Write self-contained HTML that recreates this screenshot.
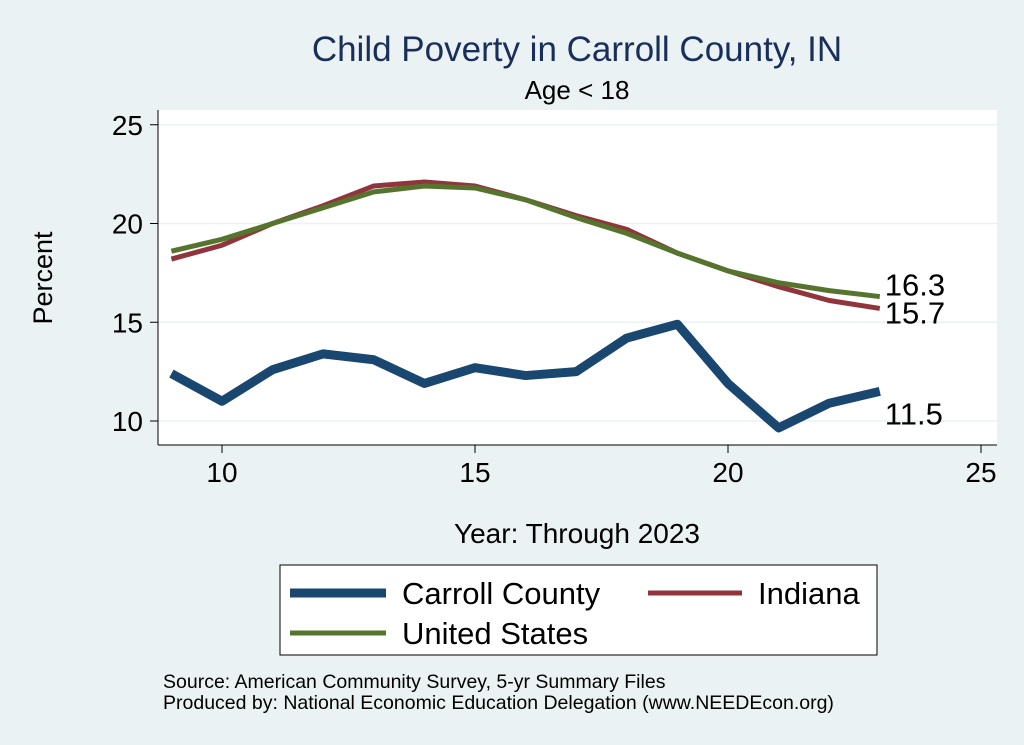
<!DOCTYPE html>
<html><head><meta charset="utf-8"><style>
body{margin:0;background:#eaf2f3;}
svg{display:block;font-family:"Liberation Sans",sans-serif;}
</style></head><body>
<svg id="chart" width="1024" height="745" viewBox="0 0 1024 745">
<rect x="0" y="0" width="1024" height="745" fill="#eaf2f3"/>
<text x="577" y="61" font-size="35" fill="#1a2e5a" text-anchor="middle">Child Poverty in Carroll County, IN</text>
<text x="577" y="99" font-size="26" fill="#000" text-anchor="middle">Age &lt; 18</text>
<rect x="158" y="110" width="839" height="335" fill="#fff"/>
<g id="grid"></g>
<g id="axes"></g>
<g id="series"></g>
<text x="52" y="278" font-size="27" text-anchor="middle" transform="rotate(-90 52 278)">Percent</text>
<text x="577" y="543" font-size="28" text-anchor="middle">Year: Through 2023</text>
<g>
<rect x="280" y="565" width="597" height="90" fill="#fff" stroke="#000" stroke-width="1"/>
<line x1="290" y1="593" x2="386" y2="593" stroke="#1a476f" stroke-width="9"/>
<text x="402" y="604" font-size="31">Carroll County</text>
<line x1="648" y1="593" x2="742" y2="593" stroke="#90353b" stroke-width="5"/>
<text x="758" y="604" font-size="31">Indiana</text>
<line x1="290" y1="633" x2="386" y2="633" stroke="#55752f" stroke-width="5"/>
<text x="402" y="644" font-size="31">United States</text>
</g>
<text x="163" y="688" font-size="19.5">Source: American Community Survey, 5-yr Summary Files</text>
<text x="163" y="709" font-size="19.5">Produced by: National Economic Education Delegation (www.NEEDEcon.org)</text>
</svg>
<script>
const years=[9,10,11,12,13,14,15,16,17,18,19,20,21,22,23];
const carroll=[12.4,11.0,12.6,13.4,13.1,11.9,12.7,12.3,12.5,14.2,14.9,11.9,9.65,10.9,11.5];
const indiana=[18.2,18.9,20.0,20.9,21.9,22.1,21.9,21.2,20.4,19.7,18.5,17.6,16.8,16.1,15.7];
const us=[18.6,19.2,20.0,20.8,21.6,21.9,21.8,21.2,20.3,19.5,18.5,17.6,17.0,16.6,16.3];
const xTicks=[10,15,20,25];
const yTicks=[10,15,20,25];
const NS="http://www.w3.org/2000/svg";
const xs=v=>222+(v-10)*50.6;
const ys=v=>421-(v-10)*19.75;
function mk(tag,attrs,parent){const e=document.createElementNS(NS,tag);for(const k in attrs)e.setAttribute(k,attrs[k]);parent.appendChild(e);return e;}
const grid=document.getElementById('grid'),axes=document.getElementById('axes'),ser=document.getElementById('series');
yTicks.forEach(t=>{
 const g=mk('line',{x1:158,x2:997,y1:ys(t),y2:ys(t),stroke:'#eaf2f3','stroke-width':1.5},grid);
 
 
 const tk=mk('line',{x1:150,x2:158,y1:ys(t),y2:ys(t),stroke:'#000'},axes);
 
 
 const l=mk('text',{x:143,y:ys(t)+10,'font-size':28,'text-anchor':'end'},axes);l.textContent=t;
 
 
});
xTicks.forEach(t=>{
 const tk=mk('line',{x1:xs(t),x2:xs(t),y1:445,y2:453,stroke:'#000'},axes);
 
 
 const l=mk('text',{x:xs(t),y:482,'font-size':28,'text-anchor':'middle'},axes);l.textContent=t;
 
 
});
const ya=mk('line',{x1:158,x2:158,y1:110,y2:445,stroke:'#000'},axes);


const xa=mk('line',{x1:158,x2:997,y1:445,y2:445,stroke:'#000'},axes);


function line(vals,color,w,name){
 const p=mk('polyline',{points:vals.map((v,i)=>xs(years[i])+','+ys(v)).join(' '),fill:'none',stroke:color,'stroke-width':w,'stroke-linejoin':'round'},ser);
 
 
}
line(indiana,'#90353b',5,'line-indiana');
line(us,'#55752f',5,'line-united-states');
line(carroll,'#1a476f',9,'line-carroll-county');
const n=years.length-1;
[[us,-1,'label-us-last'],[indiana,15,'label-indiana-last'],[carroll,33,'label-carroll-last']].forEach(([a,dy,nm])=>{
 const t=mk('text',{x:xs(years[n])+5,y:ys(a[n])+dy,'font-size':31},ser);t.textContent=a[n].toFixed(1);
 
 
});
</script>
</body></html>
